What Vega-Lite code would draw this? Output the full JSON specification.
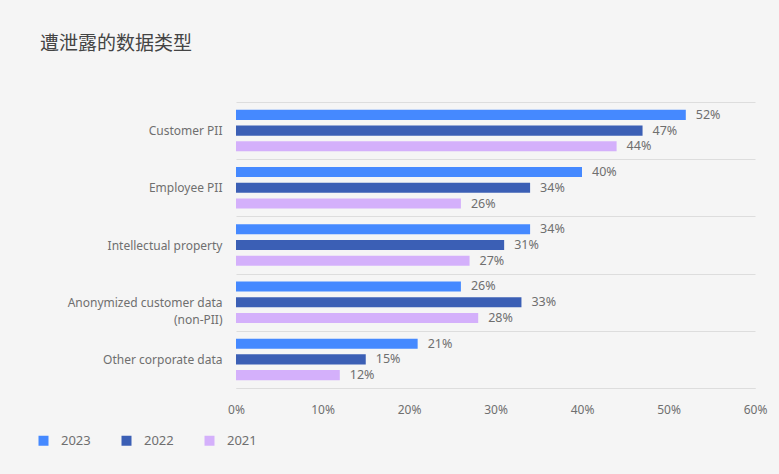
{
  "$schema": "https://vega.github.io/schema/vega-lite/v6.json",
  "width": 519,
  "height": 286,
  "autosize": {"type": "none"},
  "padding": {"left": 236, "top": 102, "right": 24, "bottom": 86},
  "background": "#f5f5f5",
  "title": {
    "text": "遭泄露的数据类型",
    "anchor": "start",
    "frame": "group",
    "dx": -196,
    "offset": 42,
    "font": "Noto Sans CJK SC",
    "fontSize": 19,
    "fontWeight": "normal",
    "color": "#444444"
  },
  "data": {
    "values": [
      {"type": "Customer PII", "year": "2023", "pct": 0.52},
      {"type": "Customer PII", "year": "2022", "pct": 0.47},
      {"type": "Customer PII", "year": "2021", "pct": 0.44},
      {"type": "Employee PII", "year": "2023", "pct": 0.40},
      {"type": "Employee PII", "year": "2022", "pct": 0.34},
      {"type": "Employee PII", "year": "2021", "pct": 0.26},
      {"type": "Intellectual property", "year": "2023", "pct": 0.34},
      {"type": "Intellectual property", "year": "2022", "pct": 0.31},
      {"type": "Intellectual property", "year": "2021", "pct": 0.27},
      {"type": "Anonymized customer data (non-PII)", "year": "2023", "pct": 0.26},
      {"type": "Anonymized customer data (non-PII)", "year": "2022", "pct": 0.33},
      {"type": "Anonymized customer data (non-PII)", "year": "2021", "pct": 0.28},
      {"type": "Other corporate data", "year": "2023", "pct": 0.21},
      {"type": "Other corporate data", "year": "2022", "pct": 0.15},
      {"type": "Other corporate data", "year": "2021", "pct": 0.12}
    ]
  },
  "encoding": {
    "y": {
      "field": "type",
      "type": "nominal",
      "sort": null,
      "title": null,
      "scale": {"paddingInner": 0, "paddingOuter": 0},
      "axis": {
        "domain": false,
        "ticks": false,
        "grid": true,
        "tickBand": "extent",
        "gridColor": "#dddddd",
        "gridWidth": 1,
        "labelPadding": 14,
        "labelFont": "Noto Sans",
        "labelFontSize": 12,
        "labelColor": "#6f6f6f",
        "labelLineHeight": 17,
        "labelExpr": "datum.value == 'Anonymized customer data (non-PII)' ? ['Anonymized customer data', '(non-PII)'] : datum.value"
      }
    },
    "yOffset": {
      "field": "year",
      "type": "nominal",
      "sort": ["2023", "2022", "2021"],
      "scale": {"paddingInner": 0.36, "paddingOuter": 0.5}
    },
    "x": {
      "field": "pct",
      "type": "quantitative",
      "title": null,
      "scale": {"domain": [0, 0.6], "nice": false},
      "axis": {
        "values": [0, 0.1, 0.2, 0.3, 0.4, 0.5, 0.6],
        "format": ".0%",
        "grid": false,
        "ticks": false,
        "domain": true,
        "domainColor": "#dddddd",
        "labelPadding": 16,
        "labelFont": "Noto Sans",
        "labelFontSize": 12,
        "labelColor": "#6f6f6f",
        "labelFlush": false
      }
    },
    "color": {
      "field": "year",
      "type": "nominal",
      "title": null,
      "scale": {
        "domain": ["2023", "2022", "2021"],
        "range": ["#4589ff", "#3b5fb5", "#d4b0fb"]
      },
      "legend": {
        "orient": "none",
        "legendX": -199,
        "legendY": 332,
        "direction": "horizontal",
        "symbolType": "square",
        "symbolSize": 100,
        "symbolStrokeWidth": 0,
        "labelFont": "Noto Sans",
        "labelFontSize": 13,
        "labelColor": "#6f6f6f",
        "labelOffset": 11,
        "columnPadding": 29
      }
    }
  },
  "layer": [
    {"mark": {"type": "bar"}},
    {
      "mark": {
        "type": "text",
        "align": "left",
        "baseline": "middle",
        "dx": 10,
        "font": "Noto Sans",
        "fontSize": 12.5,
        "color": "#6f6f6f"
      },
      "encoding": {
        "text": {"field": "pct", "type": "quantitative", "format": ".0%"},
        "color": {"value": "#6f6f6f"}
      }
    }
  ],
  "config": {
    "view": {"stroke": null}
  }
}
